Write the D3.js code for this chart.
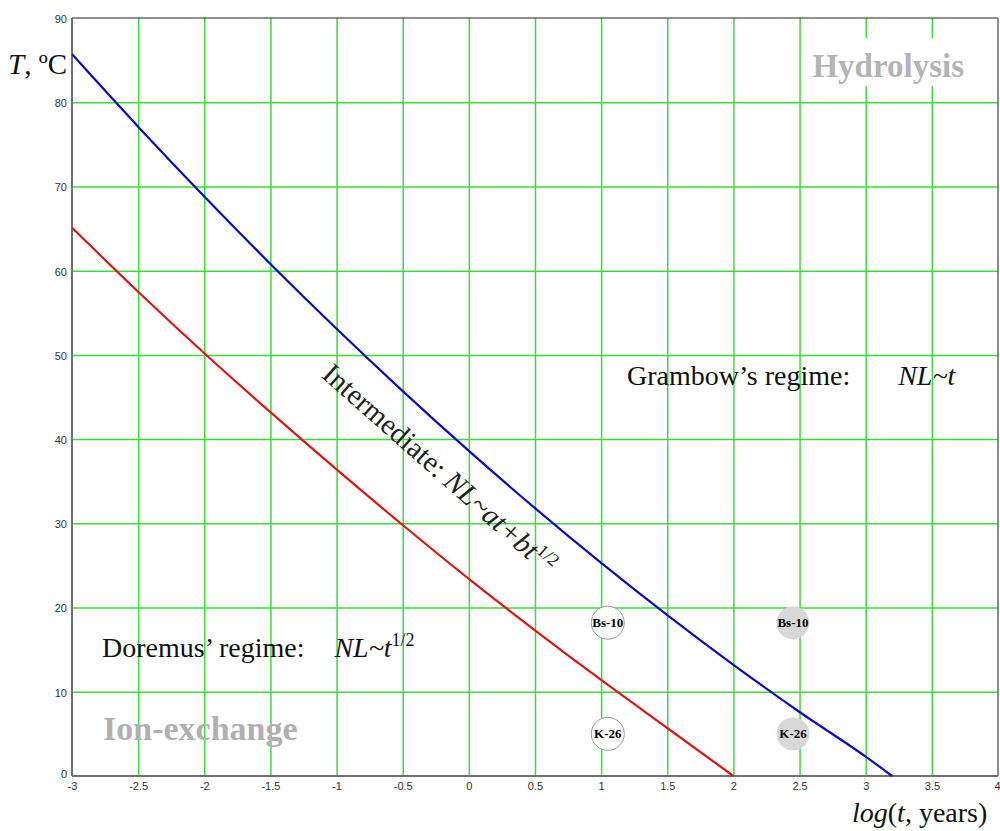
<!DOCTYPE html>
<meta charset="utf-8">
<head>
<title>Leaching regimes</title>
<script src="https://d3js.org/d3.v7.min.js"></script>
<style>
  body { margin: 0; background: #fff; }
  .tick text { font-family: Arial, "Liberation Sans", sans-serif; font-size: 11px; fill: #333; }
  .serif { font-family: "Times New Roman", "Liberation Serif", serif; }
</style>
</head>
<body>
<div id="chart"></div>
<script>
  // curves
  let blueX = [-3, -2.5, -2, -1.5, -1, -0.5, 0, 0.5, 1, 1.5, 2, 2.5, 3, 3.2];
  let blueY = [85.7, 77.1, 68.8, 60.8, 53.1, 45.7, 38.6, 31.8, 25.3, 19.1, 13.2, 7.6, 2.3, 0];
  let redX = [-3, -2.5, -2, -1.5, -1, -0.5, 0, 0.5, 1, 1.5, 2];
  let redY = [65.1, 57.5, 50.2, 43.2, 36.4, 29.8, 23.4, 17.3, 11.4, 5.7, 0];

  let xTicks = [-3, -2.5, -2, -1.5, -1, -0.5, 0, 0.5, 1, 1.5, 2, 2.5, 3, 3.5, 4];
  let yTicks = [0, 10, 20, 30, 40, 50, 60, 70, 80, 90];

  let sampleNames = ["Bs-10", "K-26", "Bs-10", "K-26"];
  let sampleX = [1.05, 1.05, 2.45, 2.45];
  let sampleY = [18.2, 5.0, 18.2, 5.0];
  let sampleFilled = [false, false, true, true];

  let W = 1000, H = 831;
  let x = d3.scaleLinear().domain([-3, 4]).range([72, 998]);
  let y = d3.scaleLinear().domain([0, 90]).range([776, 18]);

  let svg = d3.select("#chart").append("svg")
              .attr("width", W)
              .attr("height", H);

  // grid
  svg.append("g")
     .attr("transform", "translate(0," + y(0) + ")")
     .call(d3.axisBottom(x).tickValues(xTicks.slice(1, -1)).tickSize(-(y(0) - y(90))).tickFormat(""))
     .call(g => g.select(".domain").remove())
     .selectAll("line").attr("stroke", "#3ddc3d").attr("stroke-width", 1.5);

  svg.append("g")
     .attr("transform", "translate(" + x(-3) + ",0)")
     .call(d3.axisLeft(y).tickValues(yTicks.slice(1, -1)).tickSize(-(x(4) - x(-3))).tickFormat(""))
     .call(g => g.select(".domain").remove())
     .selectAll("line").attr("stroke", "#3ddc3d").attr("stroke-width", 1.5);

  // white box behind Hydrolysis label
  svg.append("rect")
     .attr("x", 810).attr("y", 38).attr("width", 156).attr("height", 48)
     .attr("fill", "white");

  // frame
  svg.append("line").attr("x1", x(-3)).attr("x2", x(4)).attr("y1", y(90)).attr("y2", y(90))
     .attr("stroke", "#222").attr("stroke-width", 1.2);
  svg.append("line").attr("x1", x(4)).attr("x2", x(4)).attr("y1", y(90)).attr("y2", y(0))
     .attr("stroke", "#666").attr("stroke-width", 1.5);
  svg.append("line").attr("x1", x(-3)).attr("x2", x(-3)).attr("y1", y(90)).attr("y2", y(0))
     .attr("stroke", "#707070").attr("stroke-width", 2);
  svg.append("line").attr("x1", x(-3)).attr("x2", x(4)).attr("y1", y(0)).attr("y2", y(0))
     .attr("stroke", "#707070").attr("stroke-width", 2);

  // tick labels
  svg.append("g")
     .attr("transform", "translate(0," + y(0) + ")")
     .call(d3.axisBottom(x).tickValues(xTicks).tickSize(0).tickPadding(6).tickFormat(d => String(d)))
     .call(g => g.select(".domain").remove())
     .selectAll("text")
     .attr("text-anchor", d => d === 4 ? "end" : "middle")
     .attr("x", d => d === 4 ? 2 : 0);

  svg.append("g")
     .attr("transform", "translate(" + (x(-3) - 3) + ",0)")
     .call(d3.axisLeft(y).tickValues(yTicks).tickSize(0).tickPadding(2).tickFormat(d => String(d)))
     .call(g => g.select(".domain").remove())
     .selectAll("text").attr("dy", d => d === 0 ? "0.1em" : "0.4em");

  // curves
  let line = d3.line().x(d => x(d[0])).y(d => y(d[1])).curve(d3.curveMonotoneX);
  svg.append("path").datum(blueX.map((v, i) => [v, blueY[i]]))
     .attr("d", line).attr("fill", "none").attr("stroke", "#0a0ac0").attr("stroke-width", 2.2);
  svg.append("path").datum(redX.map((v, i) => [v, redY[i]]))
     .attr("d", line).attr("fill", "none").attr("stroke", "#dd1515").attr("stroke-width", 2.2);

  // sample circles
  let samples = svg.selectAll(".sample")
     .data(sampleNames.map((n, i) => ({name: n, lx: sampleX[i], t: sampleY[i], filled: sampleFilled[i]})))
     .enter().append("g")
     .attr("class", "sample")
     .attr("transform", d => "translate(" + x(d.lx) + "," + y(d.t) + ")");
  samples.append("circle")
     .attr("r", 16.5)
     .attr("fill", d => d.filled ? "#d8d8d8" : "white")
     .attr("stroke", d => d.filled ? "none" : "#999")
     .attr("stroke-width", 1);
  samples.append("text")
     .attr("class", "serif")
     .attr("text-anchor", "middle")
     .attr("dy", "0.35em")
     .style("font-size", "13px")
     .style("font-weight", "bold")
     .text(d => d.name);

  // region labels
  svg.append("text").attr("class", "serif")
     .attr("x", 964).attr("y", 77).attr("text-anchor", "end")
     .style("font-size", "33px").style("font-weight", "bold").attr("fill", "#b4b4b4")
     .text("Hydrolysis");

  svg.append("text").attr("class", "serif")
     .attr("x", 103).attr("y", 740)
     .style("font-size", "34px").style("font-weight", "bold").attr("fill", "#b0b0b0")
     .text("Ion-exchange");

  let dor = svg.append("text").attr("class", "serif")
     .attr("x", 102).attr("y", 657).style("font-size", "28px").attr("fill", "#111");
  dor.append("tspan").text("Doremus\u2019 regime:");
  dor.append("tspan").attr("dx", 30).style("font-style", "italic").text("NL~t");
  dor.append("tspan").attr("dy", -11).style("font-size", "18px").text("1/2");

  let gram = svg.append("text").attr("class", "serif")
     .attr("x", 627).attr("y", 385).style("font-size", "28px").attr("fill", "#111");
  gram.append("tspan").text("Grambow\u2019s regime:");
  gram.append("tspan").attr("dx", 48).style("font-style", "italic").text("NL~t");

  let inter = svg.append("text").attr("class", "serif")
     .attr("transform", "translate(" + x(-0.27) + "," + y(35.6) + ") rotate(41.5)")
     .attr("text-anchor", "middle")
     .style("font-size", "29px").attr("fill", "#222");
  inter.append("tspan").text("Intermediate: ");
  inter.append("tspan").style("font-style", "italic").text("NL~at+bt");
  inter.append("tspan").attr("dy", -11).style("font-size", "18px").text("1/2");

  // axis titles
  let yt = svg.append("text").attr("class", "serif")
     .attr("x", 8).attr("y", 74).style("font-size", "29px").attr("fill", "#111");
  yt.append("tspan").style("font-style", "italic").text("T");
  yt.append("tspan").text(", \u00baC");

  let xt = svg.append("text").attr("class", "serif")
     .attr("x", 852).attr("y", 822).style("font-size", "28px").attr("fill", "#111");
  xt.append("tspan").style("font-style", "italic").text("log");
  xt.append("tspan").text("(");
  xt.append("tspan").style("font-style", "italic").text("t");
  xt.append("tspan").text(", years)");
</script>
</body>
